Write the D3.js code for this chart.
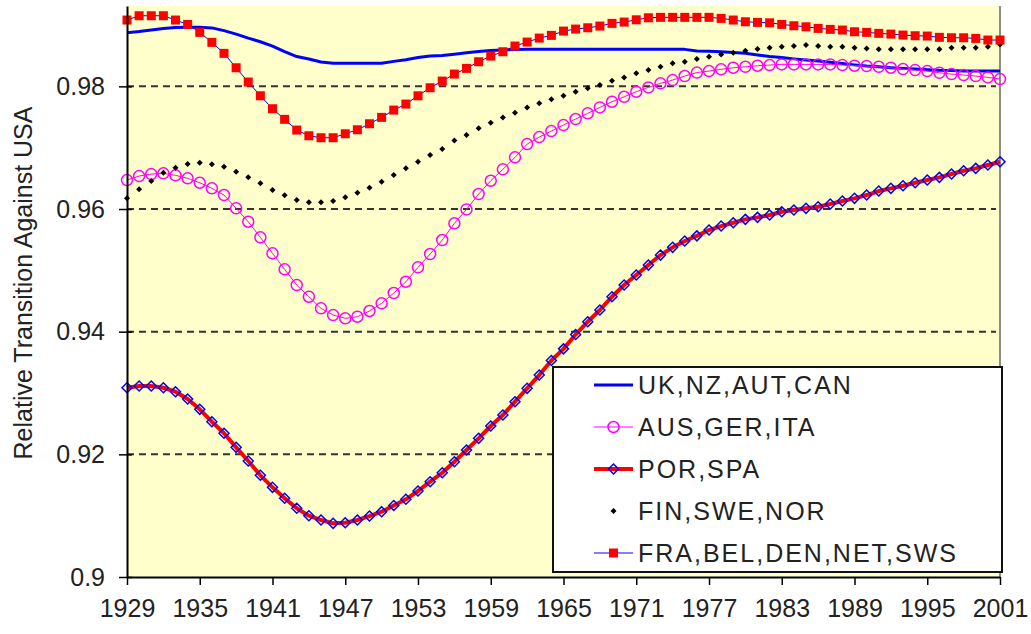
<!DOCTYPE html>
<html>
<head>
<meta charset="utf-8">
<script src="https://cdn.jsdelivr.net/npm/d3@7"></script>
<style>
  body { margin: 0; background: #fff; }
  svg { display: block; font-family: 'Liberation Sans', Arial, sans-serif; }
</style>
</head>
<body>
<svg width="1031" height="634"></svg>
<script>
var years = d3.range(1929, 2002);
var yearTicks = [1929, 1935, 1941, 1947, 1953, 1959, 1965, 1971, 1977, 1983, 1989, 1995, 2001];
var valueTicks = [0.9, 0.92, 0.94, 0.96, 0.98];
var gridTicks = [0.92, 0.94, 0.96, 0.98];

var seriesNames = ['UK,NZ,AUT,CAN', 'AUS,GER,ITA', 'POR,SPA', 'FIN,SWE,NOR', 'FRA,BEL,DEN,NET,SWS'];

var ukNzAutCan = [
  0.98874, 0.98893, 0.98918, 0.98942, 0.98958, 0.98962, 0.98962, 0.98953, 0.98909, 0.98852,
  0.98787, 0.98727, 0.98657, 0.98567, 0.98486, 0.98445, 0.98396, 0.98375, 0.98375, 0.98375,
  0.98375, 0.98375, 0.98407, 0.98432, 0.98469, 0.98494, 0.98502, 0.98523, 0.98548, 0.98567,
  0.98583, 0.98591, 0.98600, 0.98603, 0.98603, 0.98603, 0.98603, 0.98603, 0.98603, 0.98603,
  0.98603, 0.98603, 0.98603, 0.98603, 0.98603, 0.98603, 0.98603, 0.98575, 0.98572, 0.98565,
  0.98551, 0.98538, 0.98510, 0.98486, 0.98469, 0.98448, 0.98428, 0.98412, 0.98393, 0.98371,
  0.98350, 0.98331, 0.98318, 0.98305, 0.98293, 0.98282, 0.98272, 0.98262, 0.98257, 0.98252,
  0.98249, 0.98249, 0.98249];

var ausGerIta = [
  0.96472, 0.96537, 0.96570, 0.96581, 0.96549, 0.96500, 0.96428, 0.96337, 0.96228, 0.96011,
  0.95792, 0.95538, 0.95277, 0.95016, 0.94760, 0.94570, 0.94380, 0.94271, 0.94217, 0.94244,
  0.94337, 0.94462, 0.94630, 0.94814, 0.95049, 0.95266, 0.95494, 0.95766, 0.95994, 0.96244,
  0.96461, 0.96647, 0.96842, 0.97059, 0.97173, 0.97271, 0.97369, 0.97467, 0.97560, 0.97657,
  0.97749, 0.97830, 0.97912, 0.97983, 0.98049, 0.98102, 0.98168, 0.98225, 0.98249, 0.98277,
  0.98303, 0.98319, 0.98336, 0.98347, 0.98358, 0.98358, 0.98358, 0.98358, 0.98358, 0.98347,
  0.98336, 0.98331, 0.98319, 0.98303, 0.98282, 0.98265, 0.98249, 0.98221, 0.98200, 0.98184,
  0.98168, 0.98146, 0.98119];

var porSpa = [
  0.93086, 0.93114, 0.93114, 0.93086, 0.93021, 0.92902, 0.92734, 0.92532, 0.92343, 0.92114,
  0.91891, 0.91658, 0.91462, 0.91283, 0.91120, 0.90999, 0.90929, 0.90875, 0.90885, 0.90929,
  0.90994, 0.91065, 0.91166, 0.91267, 0.91402, 0.91554, 0.91700, 0.91880, 0.92070, 0.92261,
  0.92462, 0.92641, 0.92858, 0.93076, 0.93293, 0.93530, 0.93720, 0.93953, 0.94162, 0.94353,
  0.94570, 0.94760, 0.94923, 0.95086, 0.95249, 0.95375, 0.95478, 0.95562, 0.95657, 0.95722,
  0.95776, 0.95831, 0.95864, 0.95902, 0.95955, 0.95983, 0.96011, 0.96037, 0.96081, 0.96130,
  0.96174, 0.96228, 0.96293, 0.96337, 0.96379, 0.96428, 0.96472, 0.96516, 0.96570, 0.96624,
  0.96663, 0.96717, 0.96771];

var finSweNor = [
  0.96174, 0.96321, 0.96456, 0.96591, 0.96673, 0.96733, 0.96754, 0.96728, 0.96689, 0.96607,
  0.96516, 0.96418, 0.96309, 0.96223, 0.96146, 0.96109, 0.96109, 0.96130, 0.96190, 0.96265,
  0.96347, 0.96444, 0.96554, 0.96663, 0.96771, 0.96880, 0.96978, 0.97116, 0.97206, 0.97315,
  0.97406, 0.97494, 0.97569, 0.97657, 0.97723, 0.97788, 0.97846, 0.97912, 0.97967, 0.98021,
  0.98091, 0.98146, 0.98212, 0.98265, 0.98319, 0.98375, 0.98401, 0.98445, 0.98482, 0.98521,
  0.98548, 0.98580, 0.98608, 0.98629, 0.98645, 0.98657, 0.98673, 0.98657, 0.98645, 0.98645,
  0.98629, 0.98619, 0.98603, 0.98603, 0.98603, 0.98603, 0.98603, 0.98603, 0.98629, 0.98629,
  0.98629, 0.98645, 0.98684];

var fraBelDenNetSws = [
  0.99081, 0.99151, 0.99151, 0.99151, 0.99081, 0.99010, 0.98880, 0.98717, 0.98538, 0.98303,
  0.98070, 0.97846, 0.97635, 0.97462, 0.97287, 0.97194, 0.97162, 0.97162, 0.97227, 0.97292,
  0.97390, 0.97494, 0.97613, 0.97711, 0.97846, 0.97977, 0.98086, 0.98200, 0.98293, 0.98401,
  0.98494, 0.98564, 0.98657, 0.98722, 0.98787, 0.98831, 0.98901, 0.98934, 0.98955, 0.98983,
  0.99027, 0.99048, 0.99085, 0.99118, 0.99125, 0.99125, 0.99125, 0.99125, 0.99125, 0.99108,
  0.99081, 0.99053, 0.99043, 0.99036, 0.99010, 0.98988, 0.98971, 0.98945, 0.98929, 0.98918,
  0.98890, 0.98880, 0.98864, 0.98852, 0.98836, 0.98825, 0.98820, 0.98799, 0.98792, 0.98792,
  0.98782, 0.98755, 0.98755];

var plotLeft = 127, plotRight = 1000, plotTop = 6, plotBottom = 577;

var x = d3.scaleLinear().domain([1929, 2001]).range([plotLeft, plotRight]);
var y = d3.scaleLinear().domain([0.9, 0.9931]).range([plotBottom, plotTop]);

var svg = d3.select('svg');

// plot area
svg.append('rect')
  .attr('x', plotLeft).attr('y', plotTop)
  .attr('width', plotRight - plotLeft).attr('height', plotBottom - plotTop)
  .attr('fill', '#ffffcc');
svg.append('line')
  .attr('x1', plotRight).attr('x2', plotRight)
  .attr('y1', plotTop).attr('y2', plotBottom)
  .attr('stroke', '#8c8c8c').attr('stroke-width', 2);

// dashed gridlines
svg.append('g').selectAll('line').data(gridTicks).enter()
  .append('line')
  .attr('x1', plotLeft).attr('x2', plotRight - 4)
  .attr('y1', function(d) { return y(d); })
  .attr('y2', function(d) { return y(d); })
  .attr('stroke', '#333').attr('stroke-width', 2)
  .attr('stroke-dasharray', '7,5');

var pts = function(values) {
  return values.map(function(v, i) { return { year: years[i], value: v }; });
};
var line = d3.line()
  .x(function(d) { return x(d.year); })
  .y(function(d) { return y(d.value); });

var series = [
  { name: seriesNames[0], data: pts(ukNzAutCan), line: '#0000ff', width: 3, marker: null },
  { name: seriesNames[1], data: pts(ausGerIta), line: '#ff00ff', width: 1, marker: 'circle' },
  { name: seriesNames[2], data: pts(porSpa), line: '#ff0000', width: 4, marker: 'diamond' },
  { name: seriesNames[3], data: pts(finSweNor), line: null, width: 0, marker: 'dot' },
  { name: seriesNames[4], data: pts(fraBelDenNetSws), line: '#0000ff', width: 1, marker: 'square' }
];

var drawMarker = function(g, type, cx, cy) {
  if (type === 'circle') {
    g.append('circle').attr('cx', cx).attr('cy', cy).attr('r', 5.5)
      .attr('fill', 'none').attr('stroke', '#ff00ff').attr('stroke-width', 1.5);
  } else if (type === 'diamond') {
    g.append('path')
      .attr('d', 'M' + cx + ',' + (cy - 5) + 'L' + (cx + 5) + ',' + cy + 'L' + cx + ',' + (cy + 5) + 'L' + (cx - 5) + ',' + cy + 'Z')
      .attr('fill', 'none').attr('stroke', '#0000ff').attr('stroke-width', 1.5);
  } else if (type === 'dot') {
    g.append('path')
      .attr('d', 'M' + cx + ',' + (cy - 3) + 'L' + (cx + 3) + ',' + cy + 'L' + cx + ',' + (cy + 3) + 'L' + (cx - 3) + ',' + cy + 'Z')
      .attr('fill', '#000');
  } else if (type === 'square') {
    g.append('rect').attr('x', cx - 4.5).attr('y', cy - 4.5)
      .attr('width', 9).attr('height', 9).attr('fill', '#ff0000');
  }
};

series.forEach(function(s) {
  var g = svg.append('g');
  if (s.line) {
    g.append('path').datum(s.data)
      .attr('d', line)
      .attr('fill', 'none')
      .attr('stroke', s.line)
      .attr('stroke-width', s.width)
      .attr('stroke-linejoin', 'round');
  }
  if (s.marker) {
    s.data.forEach(function(d) { drawMarker(g, s.marker, x(d.year), y(d.value)); });
  }
});

// axes
var yAxis = d3.axisLeft(y).tickValues(valueTicks).tickFormat(d3.format('')).tickSizeInner(8).tickSizeOuter(0).tickPadding(14);
var yG = svg.append('g').attr('transform', 'translate(' + plotLeft + ',0)').call(yAxis);
yG.selectAll('.tick line').attr('x1', 5).attr('stroke', '#000').attr('stroke-width', 1.5);

var xAxis = d3.axisBottom(x).tickValues(yearTicks).tickFormat(d3.format('d')).tickSizeInner(8).tickSizeOuter(0).tickPadding(14);
var xG = svg.append('g').attr('transform', 'translate(0,' + plotBottom + ')').call(xAxis);
xG.selectAll('.tick line').attr('stroke', '#000').attr('stroke-width', 1.5);

[yG, xG].forEach(function(g) {
  g.select('.domain').attr('stroke', '#000').attr('stroke-width', 2);
  g.selectAll('text').attr('font-size', '25px').attr('fill', '#222')
    .attr('font-family', "'Liberation Sans', Arial, sans-serif");
});

svg.append('text')
  .attr('transform', 'translate(32,283) rotate(-90)')
  .attr('text-anchor', 'middle')
  .attr('font-size', '25px')
  .attr('fill', '#222')
  .text('Relative Transition Against USA');

// legend
var legend = svg.append('g');
legend.append('rect')
  .attr('x', 553).attr('y', 367).attr('width', 449).attr('height', 205)
  .attr('fill', '#fff').attr('stroke', '#111').attr('stroke-width', 2);

series.forEach(function(s, i) {
  var cy = 385 + i * 42;
  var g = legend.append('g');
  if (s.line) {
    g.append('line').attr('x1', 594).attr('x2', 633).attr('y1', cy).attr('y2', cy)
      .attr('stroke', s.line).attr('stroke-width', s.width);
  }
  if (s.marker) drawMarker(g, s.marker, 613.5, cy);
  g.append('text')
    .attr('x', 638).attr('y', cy + 9)
    .attr('font-size', '25px')
    .attr('letter-spacing', '2px')
    .attr('fill', '#222')
    .text(s.name);
});
</script>
</body>
</html>
